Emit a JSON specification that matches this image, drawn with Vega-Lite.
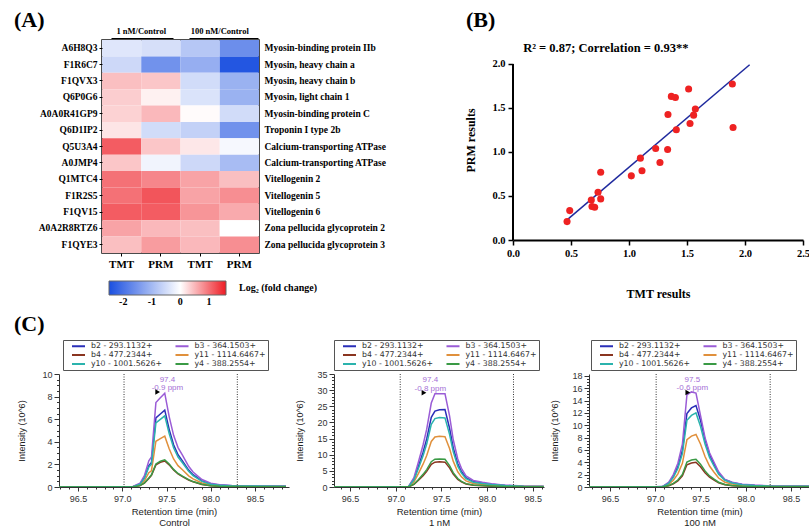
{
"$schema": "https://vega.github.io/schema/vega-lite/v6.json",
"background": "white",
"padding": {"left": 13, "top": 8, "right": 5, "bottom": 5},
"config": {"view": {"stroke": null}, "font": "Liberation Sans", "axis": {"grid": false}},
"spacing": 4,
"resolve": {"scale": {"color": "independent", "x": "independent", "y": "independent"}, "legend": {"color": "independent"}},
"datasets": {
"heat": [
{"key":"A6H8Q3|Myosin-binding protein IIb","col":"1|TMT","grp":"1 nM/Control","v":-0.35},
{"key":"A6H8Q3|Myosin-binding protein IIb","col":"1|PRM","grp":"1 nM/Control","v":-0.45},
{"key":"A6H8Q3|Myosin-binding protein IIb","col":"100|TMT","grp":"100 nM/Control","v":-0.8},
{"key":"A6H8Q3|Myosin-binding protein IIb","col":"100|PRM","grp":"100 nM/Control","v":-1.6},
{"key":"F1R6C7|Myosin, heavy chain a","col":"1|TMT","grp":"1 nM/Control","v":-0.55},
{"key":"F1R6C7|Myosin, heavy chain a","col":"1|PRM","grp":"1 nM/Control","v":-1.55},
{"key":"F1R6C7|Myosin, heavy chain a","col":"100|TMT","grp":"100 nM/Control","v":-1.15},
{"key":"F1R6C7|Myosin, heavy chain a","col":"100|PRM","grp":"100 nM/Control","v":-2.4},
{"key":"F1QVX3|Myosin, heavy chain b","col":"1|TMT","grp":"1 nM/Control","v":0.45},
{"key":"F1QVX3|Myosin, heavy chain b","col":"1|PRM","grp":"1 nM/Control","v":0.4},
{"key":"F1QVX3|Myosin, heavy chain b","col":"100|TMT","grp":"100 nM/Control","v":-0.5},
{"key":"F1QVX3|Myosin, heavy chain b","col":"100|PRM","grp":"100 nM/Control","v":-1.1},
{"key":"Q6P0G6|Myosin, light chain 1","col":"1|TMT","grp":"1 nM/Control","v":0.35},
{"key":"Q6P0G6|Myosin, light chain 1","col":"1|PRM","grp":"1 nM/Control","v":0.1},
{"key":"Q6P0G6|Myosin, light chain 1","col":"100|TMT","grp":"100 nM/Control","v":-0.4},
{"key":"Q6P0G6|Myosin, light chain 1","col":"100|PRM","grp":"100 nM/Control","v":-1.1},
{"key":"A0A0R41GP9|Myosin-binding protein C","col":"1|TMT","grp":"1 nM/Control","v":0.32},
{"key":"A0A0R41GP9|Myosin-binding protein C","col":"1|PRM","grp":"1 nM/Control","v":0.5},
{"key":"A0A0R41GP9|Myosin-binding protein C","col":"100|TMT","grp":"100 nM/Control","v":0.03},
{"key":"A0A0R41GP9|Myosin-binding protein C","col":"100|PRM","grp":"100 nM/Control","v":-0.5},
{"key":"Q6D1IP2|Troponin I type 2b","col":"1|TMT","grp":"1 nM/Control","v":0.18},
{"key":"Q6D1IP2|Troponin I type 2b","col":"1|PRM","grp":"1 nM/Control","v":-0.5},
{"key":"Q6D1IP2|Troponin I type 2b","col":"100|TMT","grp":"100 nM/Control","v":-0.65},
{"key":"Q6D1IP2|Troponin I type 2b","col":"100|PRM","grp":"100 nM/Control","v":-1.55},
{"key":"Q5U3A4|Calcium-transporting ATPase","col":"1|TMT","grp":"1 nM/Control","v":1.15},
{"key":"Q5U3A4|Calcium-transporting ATPase","col":"1|PRM","grp":"1 nM/Control","v":0.4},
{"key":"Q5U3A4|Calcium-transporting ATPase","col":"100|TMT","grp":"100 nM/Control","v":0.17},
{"key":"Q5U3A4|Calcium-transporting ATPase","col":"100|PRM","grp":"100 nM/Control","v":-0.1},
{"key":"A0JMP4|Calcium-transporting ATPase ","col":"1|TMT","grp":"1 nM/Control","v":0.4},
{"key":"A0JMP4|Calcium-transporting ATPase ","col":"1|PRM","grp":"1 nM/Control","v":-0.15},
{"key":"A0JMP4|Calcium-transporting ATPase ","col":"100|TMT","grp":"100 nM/Control","v":-0.55},
{"key":"A0JMP4|Calcium-transporting ATPase ","col":"100|PRM","grp":"100 nM/Control","v":-0.95},
{"key":"Q1MTC4|Vitellogenin 2","col":"1|TMT","grp":"1 nM/Control","v":1.0},
{"key":"Q1MTC4|Vitellogenin 2","col":"1|PRM","grp":"1 nM/Control","v":0.85},
{"key":"Q1MTC4|Vitellogenin 2","col":"100|TMT","grp":"100 nM/Control","v":0.65},
{"key":"Q1MTC4|Vitellogenin 2","col":"100|PRM","grp":"100 nM/Control","v":0.45},
{"key":"F1R2S5|Vitellogenin 5","col":"1|TMT","grp":"1 nM/Control","v":1.0},
{"key":"F1R2S5|Vitellogenin 5","col":"1|PRM","grp":"1 nM/Control","v":1.2},
{"key":"F1R2S5|Vitellogenin 5","col":"100|TMT","grp":"100 nM/Control","v":0.65},
{"key":"F1R2S5|Vitellogenin 5","col":"100|PRM","grp":"100 nM/Control","v":0.8},
{"key":"F1QV15|Vitellogenin 6","col":"1|TMT","grp":"1 nM/Control","v":1.15},
{"key":"F1QV15|Vitellogenin 6","col":"1|PRM","grp":"1 nM/Control","v":1.15},
{"key":"F1QV15|Vitellogenin 6","col":"100|TMT","grp":"100 nM/Control","v":0.75},
{"key":"F1QV15|Vitellogenin 6","col":"100|PRM","grp":"100 nM/Control","v":0.6},
{"key":"A0A2R8RTZ6|Zona pellucida glycoprotein 2","col":"1|TMT","grp":"1 nM/Control","v":0.65},
{"key":"A0A2R8RTZ6|Zona pellucida glycoprotein 2","col":"1|PRM","grp":"1 nM/Control","v":0.5},
{"key":"A0A2R8RTZ6|Zona pellucida glycoprotein 2","col":"100|TMT","grp":"100 nM/Control","v":0.45},
{"key":"A0A2R8RTZ6|Zona pellucida glycoprotein 2","col":"100|PRM","grp":"100 nM/Control","v":0.0},
{"key":"F1QYE3|Zona pellucida glycoprotein 3","col":"1|TMT","grp":"1 nM/Control","v":0.45},
{"key":"F1QYE3|Zona pellucida glycoprotein 3","col":"1|PRM","grp":"1 nM/Control","v":0.7},
{"key":"F1QYE3|Zona pellucida glycoprotein 3","col":"100|TMT","grp":"100 nM/Control","v":0.5},
{"key":"F1QYE3|Zona pellucida glycoprotein 3","col":"100|PRM","grp":"100 nM/Control","v":0.8}
],
"pts": [
{"tmt":0.466,"prm":0.209},{"tmt":0.489,"prm":0.334},{"tmt":0.675,"prm":0.455},{"tmt":0.681,"prm":0.38},
{"tmt":0.704,"prm":0.372},{"tmt":0.733,"prm":0.543},{"tmt":0.756,"prm":0.467},{"tmt":0.756,"prm":0.77},
{"tmt":1.02,"prm":0.729},{"tmt":1.098,"prm":0.93},{"tmt":1.112,"prm":0.786},{"tmt":1.23,"prm":1.04},
{"tmt":1.267,"prm":0.88},{"tmt":1.336,"prm":1.427},{"tmt":1.333,"prm":1.028},{"tmt":1.365,"prm":1.632},
{"tmt":1.4,"prm":1.62},{"tmt":1.408,"prm":1.252},{"tmt":1.514,"prm":1.715},{"tmt":1.526,"prm":1.324},
{"tmt":1.557,"prm":1.419},{"tmt":1.572,"prm":1.488},{"tmt":1.891,"prm":1.772},{"tmt":1.897,"prm":1.279}
],
"fit": [{"tmt":0.466,"prm":0.228},{"tmt":2.04,"prm":1.992}],
"chrom": [
{"c":1,"t":96.25,"b2":0,"b3":0,"b4":0,"y11":0,"y10":0,"y4":0},
{"c":1,"t":97.0,"b2":0.02,"b3":0.02,"b4":0.01,"y11":0.01,"y10":0.02,"y4":0.01},
{"c":1,"t":97.12,"b2":0.03,"b3":0.04,"b4":0.01,"y11":0.02,"y10":0.03,"y4":0.01},
{"c":1,"t":97.2,"b2":0.27,"b3":0.33,"b4":0.12,"y11":0.18,"y10":0.25,"y4":0.12},
{"c":1,"t":97.25,"b2":0.82,"b3":1.0,"b4":0.35,"y11":0.54,"y10":0.76,"y4":0.36},
{"c":1,"t":97.3,"b2":1.9,"b3":2.32,"b4":0.76,"y11":1.26,"y10":1.76,"y4":0.79},
{"c":1,"t":97.33,"b2":2.18,"b3":2.66,"b4":1.04,"y11":1.44,"y10":2.02,"y4":1.08},
{"c":1,"t":97.38,"b2":6.12,"b3":7.47,"b4":1.96,"y11":4.05,"y10":5.67,"y4":2.04},
{"c":1,"t":97.43,"b2":6.46,"b3":7.89,"b4":2.19,"y11":4.28,"y10":5.99,"y4":2.28},
{"c":1,"t":97.48,"b2":6.8,"b3":8.3,"b4":2.3,"y11":4.5,"y10":6.3,"y4":2.4},
{"c":1,"t":97.53,"b2":5.1,"b3":6.23,"b4":1.96,"y11":3.38,"y10":4.73,"y4":2.04},
{"c":1,"t":97.58,"b2":3.74,"b3":4.57,"b4":1.5,"y11":2.48,"y10":3.47,"y4":1.56},
{"c":1,"t":97.63,"b2":2.86,"b3":3.49,"b4":1.15,"y11":1.89,"y10":2.65,"y4":1.2},
{"c":1,"t":97.68,"b2":2.31,"b3":2.82,"b4":0.92,"y11":1.53,"y10":2.14,"y4":0.96},
{"c":1,"t":97.75,"b2":1.5,"b3":1.83,"b4":0.62,"y11":0.99,"y10":1.39,"y4":0.65},
{"c":1,"t":97.8,"b2":1.09,"b3":1.33,"b4":0.46,"y11":0.72,"y10":1.01,"y4":0.48},
{"c":1,"t":97.9,"b2":0.54,"b3":0.66,"b4":0.23,"y11":0.36,"y10":0.5,"y4":0.24},
{"c":1,"t":98.0,"b2":0.27,"b3":0.33,"b4":0.12,"y11":0.18,"y10":0.25,"y4":0.12},
{"c":1,"t":98.1,"b2":0.17,"b3":0.21,"b4":0.07,"y11":0.11,"y10":0.16,"y4":0.07},
{"c":1,"t":98.25,"b2":0.1,"b3":0.12,"b4":0.03,"y11":0.07,"y10":0.09,"y4":0.04},
{"c":1,"t":98.5,"b2":0.08,"b3":0.1,"b4":0.02,"y11":0.05,"y10":0.08,"y4":0.02},
{"c":1,"t":98.85,"b2":0.07,"b3":0.08,"b4":0.02,"y11":0.05,"y10":0.06,"y4":0.02},
{"c":2,"t":96.3,"b2":0,"b3":0,"b4":0,"y11":0,"y10":0,"y4":0},
{"c":2,"t":97.0,"b2":0.07,"b3":0.09,"b4":0.02,"y11":0.05,"y10":0.06,"y4":0.03},
{"c":2,"t":97.14,"b2":0.12,"b3":0.14,"b4":0.04,"y11":0.08,"y10":0.11,"y4":0.04},
{"c":2,"t":97.2,"b2":2.4,"b3":2.89,"b4":0.78,"y11":1.57,"y10":2.15,"y4":0.87},
{"c":2,"t":97.25,"b2":6.48,"b3":7.8,"b4":2.11,"y11":4.24,"y10":5.8,"y4":2.35},
{"c":2,"t":97.3,"b2":10.8,"b3":13.0,"b4":3.51,"y11":7.07,"y10":9.68,"y4":3.92},
{"c":2,"t":97.34,"b2":14.9,"b3":17.9,"b4":4.84,"y11":9.73,"y10":13.3,"y4":5.39},
{"c":2,"t":97.39,"b2":21.6,"b3":26.0,"b4":7.02,"y11":14.1,"y10":19.4,"y4":7.83},
{"c":2,"t":97.43,"b2":23.5,"b3":28.9,"b4":7.7,"y11":15.5,"y10":21.2,"y4":8.6},
{"c":2,"t":97.48,"b2":23.9,"b3":28.9,"b4":7.8,"y11":15.7,"y10":21.5,"y4":8.7},
{"c":2,"t":97.54,"b2":24.0,"b3":28.9,"b4":7.7,"y11":15.6,"y10":21.4,"y4":8.6},
{"c":2,"t":97.59,"b2":18.2,"b3":22.0,"b4":5.93,"y11":11.9,"y10":16.3,"y4":6.61},
{"c":2,"t":97.63,"b2":12.2,"b3":14.7,"b4":3.98,"y11":8.0,"y10":11.0,"y4":4.44},
{"c":2,"t":97.68,"b2":7.2,"b3":8.67,"b4":2.34,"y11":4.71,"y10":6.45,"y4":2.61},
{"c":2,"t":97.72,"b2":4.8,"b3":5.78,"b4":1.56,"y11":3.14,"y10":4.3,"y4":1.74},
{"c":2,"t":97.77,"b2":2.88,"b3":3.47,"b4":0.94,"y11":1.88,"y10":2.58,"y4":1.04},
{"c":2,"t":97.85,"b2":1.68,"b3":2.02,"b4":0.55,"y11":1.1,"y10":1.5,"y4":0.61},
{"c":2,"t":97.95,"b2":1.2,"b3":1.45,"b4":0.39,"y11":0.79,"y10":1.08,"y4":0.44},
{"c":2,"t":98.05,"b2":0.84,"b3":1.01,"b4":0.27,"y11":0.55,"y10":0.75,"y4":0.3},
{"c":2,"t":98.2,"b2":0.48,"b3":0.58,"b4":0.16,"y11":0.31,"y10":0.43,"y4":0.17},
{"c":2,"t":98.4,"b2":0.24,"b3":0.29,"b4":0.08,"y11":0.16,"y10":0.22,"y4":0.09},
{"c":2,"t":98.62,"b2":0.19,"b3":0.23,"b4":0.06,"y11":0.13,"y10":0.17,"y4":0.07},
{"c":3,"t":96.27,"b2":0,"b3":0,"b4":0,"y11":0,"y10":0,"y4":0},
{"c":3,"t":97.0,"b2":0.04,"b3":0.05,"b4":0.01,"y11":0.03,"y10":0.04,"y4":0.01},
{"c":3,"t":97.08,"b2":0.07,"b3":0.08,"b4":0.02,"y11":0.04,"y10":0.06,"y4":0.02},
{"c":3,"t":97.15,"b2":0.66,"b3":0.77,"b4":0.2,"y11":0.43,"y10":0.6,"y4":0.23},
{"c":3,"t":97.2,"b2":1.72,"b3":2.0,"b4":0.52,"y11":1.1,"y10":1.56,"y4":0.59},
{"c":3,"t":97.25,"b2":3.3,"b3":3.85,"b4":1.0,"y11":2.13,"y10":3.0,"y4":1.13},
{"c":3,"t":97.3,"b2":5.94,"b3":6.93,"b4":1.8,"y11":3.83,"y10":5.4,"y4":2.03},
{"c":3,"t":97.35,"b2":11.9,"b3":14.9,"b4":3.6,"y11":7.65,"y10":10.8,"y4":4.05},
{"c":3,"t":97.4,"b2":12.8,"b3":15.4,"b4":3.88,"y11":8.25,"y10":11.6,"y4":4.37},
{"c":3,"t":97.45,"b2":13.2,"b3":15.2,"b4":4.0,"y11":8.5,"y10":12.0,"y4":4.5},
{"c":3,"t":97.5,"b2":10.8,"b3":11.6,"b4":3.28,"y11":6.97,"y10":9.84,"y4":3.69},
{"c":3,"t":97.55,"b2":7.66,"b3":8.0,"b4":2.32,"y11":4.93,"y10":6.96,"y4":2.61},
{"c":3,"t":97.6,"b2":5.28,"b3":5.54,"b4":1.6,"y11":3.4,"y10":4.8,"y4":1.8},
{"c":3,"t":97.65,"b2":3.7,"b3":4.0,"b4":1.12,"y11":2.38,"y10":3.36,"y4":1.26},
{"c":3,"t":97.7,"b2":2.24,"b3":2.46,"b4":0.68,"y11":1.45,"y10":2.04,"y4":0.77},
{"c":3,"t":97.77,"b2":1.19,"b3":1.23,"b4":0.36,"y11":0.77,"y10":1.08,"y4":0.41},
{"c":3,"t":97.85,"b2":0.73,"b3":0.77,"b4":0.22,"y11":0.47,"y10":0.66,"y4":0.25},
{"c":3,"t":97.96,"b2":0.4,"b3":0.46,"b4":0.12,"y11":0.26,"y10":0.36,"y4":0.14},
{"c":3,"t":98.1,"b2":0.26,"b3":0.31,"b4":0.08,"y11":0.17,"y10":0.24,"y4":0.09},
{"c":3,"t":98.3,"b2":0.16,"b3":0.18,"b4":0.05,"y11":0.1,"y10":0.14,"y4":0.05},
{"c":3,"t":98.5,"b2":0.13,"b3":0.15,"b4":0.04,"y11":0.09,"y10":0.12,"y4":0.05},
{"c":3,"t":98.71,"b2":0.13,"b3":0.15,"b4":0.04,"y11":0.09,"y10":0.12,"y4":0.05}
],
"rules": [{"c":1,"t":97.02},{"c":1,"t":98.3},{"c":2,"t":97.05},{"c":2,"t":98.29},{"c":3,"t":97.01},{"c":3,"t":98.27}],
"ann": [
{"c":1,"t":97.51,"v":9.5,"txt":"97.4"},{"c":1,"t":97.51,"v":8.8,"txt":"-0.9 ppm"},
{"c":2,"t":97.38,"v":33.0,"txt":"97.4"},{"c":2,"t":97.38,"v":30.5,"txt":"-0.8 ppm"},
{"c":3,"t":97.41,"v":17.4,"txt":"97.5"},{"c":3,"t":97.41,"v":16.0,"txt":"-0.6 ppm"}
],
"tri": [{"c":1,"t":97.4,"v":8.4},{"c":2,"t":97.31,"v":29.2},{"c":3,"t":97.36,"v":15.3}]
},
"vconcat": [
{
"bounds": "flush",
"spacing": 42,
"resolve": {"scale": {"color": "independent"}, "legend": {"color": "independent"}},
"hconcat": [
{
"width": 1, "height": 1,
"data": {"values": [{"s": 0}]},
"mark": {"type": "point", "opacity": 0},
"encoding": {}
},
{
"bounds": "flush",
"spacing": 254,
"resolve": {"scale": {"color": "independent"}, "legend": {"color": "independent"}},
"hconcat": [
{
"width": 157, "height": 213,
"view": {"stroke": "#111", "strokeWidth": 1.5},
"title": {"text": "(A)", "anchor": "start", "dx": -88, "offset": -6, "font": "Liberation Serif", "fontWeight": "bold", "fontSize": 22, "frame": "group", "color": "#000"},
"data": {"name": "heat"},
"resolve": {"scale": {"x": "independent"}, "axis": {"x": "independent", "y": "independent"}},
"layer": [
{
"mark": {"type": "rect"},
"encoding": {
"x": {"field": "col", "type": "nominal", "sort": null, "scale": {"paddingInner": 0, "paddingOuter": 0},
 "axis": {"orient": "bottom", "title": null, "labelExpr": "split(datum.value,'|')[1]", "labelAngle": 0, "labelFont": "Liberation Serif", "labelFontWeight": "bold", "labelFontSize": 11, "labelColor": "#000", "tickSize": 3, "tickColor": "#000", "domain": false, "labelPadding": 2}},
"y": {"field": "key", "type": "nominal", "sort": null, "scale": {"paddingInner": 0, "paddingOuter": 0},
 "axis": {"orient": "left", "title": null, "labelExpr": "split(datum.value,'|')[0]", "labelFont": "Liberation Serif", "labelFontWeight": "bold", "labelFontSize": 9.5, "labelColor": "#000", "tickSize": 3, "tickColor": "#000", "domain": false, "labelPadding": 2}},
"color": {"field": "v", "type": "quantitative",
 "scale": {"domain": [-2.5, 0, 1.6], "range": ["#1a4fe0", "#ffffff", "#ee1c24"], "interpolate": "rgb"},
 "legend": {"orient": "none", "legendX": 7, "legendY": 241, "direction": "horizontal", "gradientLength": 117, "gradientThickness": 14, "values": [-2, -1, 0, 1], "labelExpr": "datum.value < 0 ? '-' + abs(datum.value) : '' + datum.value", "title": "Log₂ (fold change)", "titleOrient": "right", "titleFont": "Liberation Serif", "titleFontWeight": "bold", "titleFontSize": 10, "titlePadding": 12, "titleColor": "#000", "labelFont": "Liberation Serif", "labelFontWeight": "bold", "labelFontSize": 10, "labelColor": "#000", "gradientStrokeColor": "#666", "gradientStrokeWidth": 1, "padding": 0}}
}
},
{
"mark": {"type": "rect", "opacity": 0},
"encoding": {
"x": {"field": "grp", "type": "nominal", "sort": null, "scale": {"paddingInner": 0, "paddingOuter": 0},
 "axis": {"orient": "top", "title": null, "labelAngle": 0, "ticks": false, "domain": true, "domainColor": "#000", "domainWidth": 1, "domainDash": [0, 9, 62, 16, 69, 50], "offset": 2, "labelFont": "Liberation Serif", "labelFontWeight": "bold", "labelFontSize": 8.5, "labelColor": "#000", "labelPadding": 3}},
"y": {"field": "key", "type": "nominal", "sort": null,
 "axis": {"orient": "right", "title": null, "labelExpr": "split(datum.value,'|')[1]", "ticks": false, "domain": false, "labelFont": "Liberation Serif", "labelFontWeight": "bold", "labelFontSize": 9.5, "labelColor": "#000", "labelPadding": 5}}
}
}
]
},
{
"width": 290, "height": 200,
"title": {"text": "(B)", "anchor": "start", "dx": -47, "offset": 8, "font": "Liberation Serif", "fontWeight": "bold", "fontSize": 22, "frame": "group", "color": "#000"},
"layer": [
{
"data": {"values": [{"x": 0, "y": 0, "y2": 2}]},
"mark": {"type": "rule", "strokeWidth": 2, "color": "#000"},
"encoding": {
"x": {"field": "x", "type": "quantitative", "scale": {"domain": [0, 2.5], "nice": false},
 "axis": {"title": "TMT results", "values": [0, 0.5, 1, 1.5, 2, 2.5], "tickCount": 20, "format": ".1f", "labelFont": "Liberation Serif", "labelFontWeight": "bold", "labelFontSize": 10.5, "labelColor": "#000", "domainWidth": 2, "domainColor": "#000", "tickWidth": 1.5, "tickColor": "#000", "tickSize": 5, "titleFont": "Liberation Serif", "titleFontWeight": "bold", "titleFontSize": 12, "titleColor": "#000", "titlePadding": 30, "labelPadding": 3, "labelFlush": false}},
"y": {"field": "y", "type": "quantitative", "scale": {"domain": [0, 2.2727], "nice": false},
 "axis": {"title": "PRM results", "values": [0, 0.5, 1, 1.5, 2], "tickCount": 20, "format": ".1f", "domain": false, "labelFont": "Liberation Serif", "labelFontWeight": "bold", "labelFontSize": 10.5, "labelColor": "#000", "tickWidth": 1.5, "tickColor": "#000", "tickSize": 5, "titleFont": "Liberation Serif", "titleFontWeight": "bold", "titleFontSize": 12, "titleColor": "#000", "titlePadding": 14, "labelPadding": 3}},
"y2": {"field": "y2"}
}
},
{
"data": {"name": "fit"},
"mark": {"type": "line", "color": "#1f2a9e", "strokeWidth": 1.5},
"encoding": {"x": {"field": "tmt", "type": "quantitative"}, "y": {"field": "prm", "type": "quantitative"}}
},
{
"data": {"name": "pts"},
"mark": {"type": "circle", "size": 50, "color": "#ee2222", "opacity": 1},
"encoding": {"x": {"field": "tmt", "type": "quantitative"}, "y": {"field": "prm", "type": "quantitative"}}
},
{
"data": {"values": [{"x": 0.8, "y": 2.18, "t": "R² = 0.87; Correlation = 0.93**"}]},
"mark": {"type": "text", "font": "Liberation Serif", "fontWeight": "bold", "fontSize": 12.5, "color": "#000"},
"encoding": {"x": {"field": "x", "type": "quantitative"}, "y": {"field": "y", "type": "quantitative"}, "text": {"field": "t"}}
}
]
}
]
}
]
},
{
"bounds": "flush",
"spacing": 45,
"resolve": {"scale": {"color": "independent"}, "legend": {"color": "independent"}},
"hconcat": [
{
"width": 230, "height": 113,
"title": {"text": "(C)", "anchor": "start", "dx": -45, "offset": 4, "font": "Liberation Serif", "fontWeight": "bold", "fontSize": 22, "frame": "group", "color": "#000"},
"layer": [
{
"data": {"name": "chrom"},
"transform": [{"filter": "datum.c == 1"}, {"fold": ["b2", "b3", "b4", "y11", "y10", "y4"], "as": ["s", "v"]}],
"mark": {"type": "line", "strokeWidth": 1.5, "clip": true},
"encoding": {
"x": {"field": "t", "type": "quantitative", "scale": {"domain": [96.285, 98.884], "nice": false, "zero": false},
 "axis": {"title": ["Retention time (min)", "Control"], "tickCount": 200, "values": [96.3,96.4,96.5,96.6,96.7,96.8,96.9,97,97.1,97.2,97.3,97.4,97.5,97.6,97.7,97.8,97.9,98,98.1,98.2,98.3,98.4,98.5,98.6,98.7,98.8], "labelExpr": "abs(datum.value*2-round(datum.value*2))<0.01 ? format(datum.value,'.1f') : ''", "labelFontSize": 9, "tickSize": {"condition": {"test": "abs(datum.value*2-round(datum.value*2))<0.01", "value": 4}, "value": 2}, "labelColor": "#333", "domainColor": "#333", "tickColor": "#333", "titleFontSize": 9.5, "titleFontWeight": "normal", "titleColor": "#222", "titlePadding": 3, "labelPadding": 3, "labelFlush": false, "labelOverlap": false}},
"y": {"field": "v", "type": "quantitative", "scale": {"domain": [0, 10], "nice": false},
 "axis": {"title": "Intensity (10^6)", "tickCount": 200, "values": [0,0.5,1,1.5,2,2.5,3,3.5,4,4.5,5,5.5,6,6.5,7,7.5,8,8.5,9,9.5,10], "labelExpr": "datum.value % 2 == 0 ? '' + datum.value : ''", "labelFontSize": 9, "tickSize": {"condition": {"test": "datum.value % 2 == 0", "value": 5}, "value": 2.5}, "labelColor": "#333", "domainColor": "#333", "tickColor": "#333", "titleFontSize": 9, "titleFontWeight": "normal", "titleColor": "#222", "titlePadding": 15, "labelOverlap": false}},
"color": {"field": "s", "type": "nominal", "scale": {"domain": ["b2", "b4", "y10", "b3", "y11", "y4"], "range": ["#2a2fb8", "#8a3520", "#2bb3ad", "#9a5cd6", "#e0903c", "#3a9a45"]},
 "legend": {"orient": "none", "legendX": 4, "legendY": -34, "columns": 2, "title": null, "symbolType": "M-1.86,0H1.86", "symbolSize": 49, "symbolStrokeWidth": 2, "labelFont": "DejaVu Sans", "labelFontSize": 7.8, "labelColor": "#333", "symbolOffset": 9.5, "labelOffset": 8, "rowPadding": 0, "columnPadding": 5.5, "padding": 1.5, "strokeColor": "#555", "labelExpr": "datum.label=='b2'?'b2 - 293.1132+':datum.label=='b3'?'b3 - 364.1503+':datum.label=='b4'?'b4 - 477.2344+':datum.label=='y11'?'y11 - 1114.6467+':datum.label=='y10'?'y10 - 1001.5626+':'y4 - 388.2554+'"}}
}
},
{
"data": {"name": "rules"},
"transform": [{"filter": "datum.c == 1"}],
"mark": {"type": "rule", "strokeDash": [1, 1.5], "color": "#333", "strokeWidth": 1},
"encoding": {"x": {"field": "t", "type": "quantitative"}}
},
{
"data": {"name": "ann"},
"transform": [{"filter": "datum.c == 1"}],
"mark": {"type": "text", "fontSize": 8, "color": "#a56fd6"},
"encoding": {"x": {"field": "t", "type": "quantitative"}, "y": {"field": "v", "type": "quantitative"}, "text": {"field": "txt"}}
},
{
"data": {"name": "tri"},
"transform": [{"filter": "datum.c == 1"}],
"mark": {"type": "point", "shape": "triangle-right", "filled": true, "color": "#000", "size": 30, "opacity": 1},
"encoding": {"x": {"field": "t", "type": "quantitative"}, "y": {"field": "v", "type": "quantitative"}}
}
]
},
{
"width": 210, "height": 113,
"layer": [
{
"data": {"name": "chrom"},
"transform": [{"filter": "datum.c == 2"}, {"fold": ["b2", "b3", "b4", "y11", "y10", "y4"], "as": ["s", "v"]}],
"mark": {"type": "line", "strokeWidth": 1.5, "clip": true},
"encoding": {
"x": {"field": "t", "type": "quantitative", "scale": {"domain": [96.325, 98.624], "nice": false, "zero": false},
 "axis": {"title": ["Retention time (min)", "1 nM"], "tickCount": 200, "values": [96.4,96.5,96.6,96.7,96.8,96.9,97,97.1,97.2,97.3,97.4,97.5,97.6,97.7,97.8,97.9,98,98.1,98.2,98.3,98.4,98.5,98.6], "labelExpr": "abs(datum.value*2-round(datum.value*2))<0.01 ? format(datum.value,'.1f') : ''", "labelFontSize": 9, "tickSize": {"condition": {"test": "abs(datum.value*2-round(datum.value*2))<0.01", "value": 4}, "value": 2}, "labelColor": "#333", "domainColor": "#333", "tickColor": "#333", "titleFontSize": 9.5, "titleFontWeight": "normal", "titleColor": "#222", "titlePadding": 3, "labelPadding": 3, "labelFlush": false, "labelOverlap": false}},
"y": {"field": "v", "type": "quantitative", "scale": {"domain": [0, 35], "nice": false},
 "axis": {"title": "Intensity (10^6)", "tickCount": 200, "values": [0,1,2,3,4,5,6,7,8,9,10,11,12,13,14,15,16,17,18,19,20,21,22,23,24,25,26,27,28,29,30,31,32,33,34,35], "labelExpr": "datum.value % 5 == 0 ? '' + datum.value : ''", "labelFontSize": 9, "tickSize": {"condition": {"test": "datum.value % 5 == 0", "value": 5}, "value": 2.5}, "labelColor": "#333", "domainColor": "#333", "tickColor": "#333", "titleFontSize": 9, "titleFontWeight": "normal", "titleColor": "#222", "titlePadding": 12, "labelOverlap": false}},
"color": {"field": "s", "type": "nominal", "scale": {"domain": ["b2", "b4", "y10", "b3", "y11", "y4"], "range": ["#2a2fb8", "#8a3520", "#2bb3ad", "#9a5cd6", "#e0903c", "#3a9a45"]},
 "legend": {"orient": "none", "legendX": 0, "legendY": -34, "columns": 2, "title": null, "symbolType": "M-1.86,0H1.86", "symbolSize": 49, "symbolStrokeWidth": 2, "labelFont": "DejaVu Sans", "labelFontSize": 7.8, "labelColor": "#333", "symbolOffset": 9.5, "labelOffset": 8, "rowPadding": 0, "columnPadding": 5.5, "padding": 1.5, "strokeColor": "#555", "labelExpr": "datum.label=='b2'?'b2 - 293.1132+':datum.label=='b3'?'b3 - 364.1503+':datum.label=='b4'?'b4 - 477.2344+':datum.label=='y11'?'y11 - 1114.6467+':datum.label=='y10'?'y10 - 1001.5626+':'y4 - 388.2554+'"}}
}
},
{
"data": {"name": "rules"},
"transform": [{"filter": "datum.c == 2"}],
"mark": {"type": "rule", "strokeDash": [1, 1.5], "color": "#333", "strokeWidth": 1},
"encoding": {"x": {"field": "t", "type": "quantitative"}}
},
{
"data": {"name": "ann"},
"transform": [{"filter": "datum.c == 2"}],
"mark": {"type": "text", "fontSize": 8, "color": "#a56fd6"},
"encoding": {"x": {"field": "t", "type": "quantitative"}, "y": {"field": "v", "type": "quantitative"}, "text": {"field": "txt"}}
},
{
"data": {"name": "tri"},
"transform": [{"filter": "datum.c == 2"}],
"mark": {"type": "point", "shape": "triangle-right", "filled": true, "color": "#000", "size": 30, "opacity": 1},
"encoding": {"x": {"field": "t", "type": "quantitative"}, "y": {"field": "v", "type": "quantitative"}}
}
]
},
{
"width": 221, "height": 113,
"layer": [
{
"data": {"name": "chrom"},
"transform": [{"filter": "datum.c == 3"}, {"fold": ["b2", "b3", "b4", "y11", "y10", "y4"], "as": ["s", "v"]}],
"mark": {"type": "line", "strokeWidth": 1.5, "clip": true},
"encoding": {
"x": {"field": "t", "type": "quantitative", "scale": {"domain": [96.268, 98.71], "nice": false, "zero": false},
 "axis": {"title": ["Retention time (min)", "100 nM"], "tickCount": 200, "values": [96.3,96.4,96.5,96.6,96.7,96.8,96.9,97,97.1,97.2,97.3,97.4,97.5,97.6,97.7,97.8,97.9,98,98.1,98.2,98.3,98.4,98.5,98.6,98.7], "labelExpr": "abs(datum.value*2-round(datum.value*2))<0.01 ? format(datum.value,'.1f') : ''", "labelFontSize": 9, "tickSize": {"condition": {"test": "abs(datum.value*2-round(datum.value*2))<0.01", "value": 4}, "value": 2}, "labelColor": "#333", "domainColor": "#333", "tickColor": "#333", "titleFontSize": 9.5, "titleFontWeight": "normal", "titleColor": "#222", "titlePadding": 3, "labelPadding": 3, "labelFlush": false, "labelOverlap": false}},
"y": {"field": "v", "type": "quantitative", "scale": {"domain": [0, 18.3], "nice": false},
 "axis": {"title": "Intensity (10^6)", "tickCount": 200, "values": [0,0.5,1,1.5,2,2.5,3,3.5,4,4.5,5,5.5,6,6.5,7,7.5,8,8.5,9,9.5,10,10.5,11,11.5,12,12.5,13,13.5,14,14.5,15,15.5,16,16.5,17,17.5,18], "labelExpr": "datum.value % 2 == 0 ? '' + datum.value : ''", "labelFontSize": 9, "tickSize": {"condition": {"test": "datum.value % 2 == 0", "value": 5}, "value": 2.5}, "labelColor": "#333", "domainColor": "#333", "tickColor": "#333", "titleFontSize": 9, "titleFontWeight": "normal", "titleColor": "#222", "titlePadding": 12, "labelOverlap": false}},
"color": {"field": "s", "type": "nominal", "scale": {"domain": ["b2", "b4", "y10", "b3", "y11", "y4"], "range": ["#2a2fb8", "#8a3520", "#2bb3ad", "#9a5cd6", "#e0903c", "#3a9a45"]},
 "legend": {"orient": "none", "legendX": 2, "legendY": -34, "columns": 2, "title": null, "symbolType": "M-1.86,0H1.86", "symbolSize": 49, "symbolStrokeWidth": 2, "labelFont": "DejaVu Sans", "labelFontSize": 7.8, "labelColor": "#333", "symbolOffset": 9.5, "labelOffset": 8, "rowPadding": 0, "columnPadding": 5.5, "padding": 1.5, "strokeColor": "#555", "labelExpr": "datum.label=='b2'?'b2 - 293.1132+':datum.label=='b3'?'b3 - 364.1503+':datum.label=='b4'?'b4 - 477.2344+':datum.label=='y11'?'y11 - 1114.6467+':datum.label=='y10'?'y10 - 1001.5626+':'y4 - 388.2554+'"}}
}
},
{
"data": {"name": "rules"},
"transform": [{"filter": "datum.c == 3"}],
"mark": {"type": "rule", "strokeDash": [1, 1.5], "color": "#333", "strokeWidth": 1},
"encoding": {"x": {"field": "t", "type": "quantitative"}}
},
{
"data": {"name": "ann"},
"transform": [{"filter": "datum.c == 3"}],
"mark": {"type": "text", "fontSize": 8, "color": "#a56fd6"},
"encoding": {"x": {"field": "t", "type": "quantitative"}, "y": {"field": "v", "type": "quantitative"}, "text": {"field": "txt"}}
},
{
"data": {"name": "tri"},
"transform": [{"filter": "datum.c == 3"}],
"mark": {"type": "point", "shape": "triangle-right", "filled": true, "color": "#000", "size": 30, "opacity": 1},
"encoding": {"x": {"field": "t", "type": "quantitative"}, "y": {"field": "v", "type": "quantitative"}}
}
]
}
]
}
]
}
